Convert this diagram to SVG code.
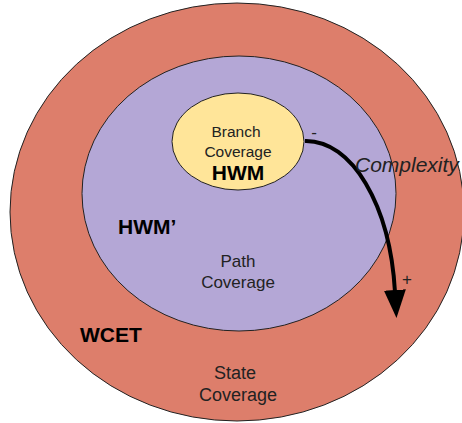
<svg xmlns="http://www.w3.org/2000/svg" width="462" height="423" viewBox="0 0 462 423">
  <defs>
    <marker id="arrowhead" viewBox="0 0 28 22" refX="2" refY="11" markerWidth="28" markerHeight="22" markerUnits="userSpaceOnUse" orient="auto">
      <polygon points="0,0 28,11 0,22" fill="#000"/>
    </marker>
    <style>
      .ring { stroke: #222; stroke-width: 1; }
      .lbl { font-family: "Liberation Sans", Arial, sans-serif; fill: #222; text-anchor: middle; }
      .big { font-family: "Liberation Sans", Arial, sans-serif; font-weight: bold; fill: #000; font-size: 21px; }
    </style>
  </defs>
  <rect width="462" height="423" fill="#fff"/>

  <!-- outer ring: state coverage / WCET -->
  <g id="state-coverage">
    <ellipse class="ring" cx="237" cy="212" rx="227" ry="209" fill="#dd7e6b"/>
    <text class="big" x="80" y="342">WCET</text>
    <text class="lbl" x="235" y="379" font-size="18">State</text>
    <text class="lbl" x="238" y="401" font-size="18">Coverage</text>
  </g>

  <!-- middle ring: path coverage / HWM' -->
  <g id="path-coverage">
    <ellipse class="ring" cx="239" cy="193.5" rx="157" ry="137.5" fill="#b4a7d6"/>
    <text class="big" x="118" y="234">HWM’</text>
    <text class="lbl" x="238" y="267" font-size="17">Path</text>
    <text class="lbl" x="238" y="288" font-size="17">Coverage</text>
  </g>

  <!-- inner ring: branch coverage / HWM -->
  <g id="branch-coverage">
    <ellipse class="ring" cx="238" cy="141.5" rx="66" ry="48.5" fill="#ffe599"/>
    <text class="lbl" x="236" y="137" font-size="15.5">Branch</text>
    <text class="lbl" x="238" y="157" font-size="15.5">Coverage</text>
    <text class="big" x="238" y="180" text-anchor="middle">HWM</text>
  </g>

  <!-- complexity axis -->
  <g id="connectors">
    <path d="M305,141 C352,140 390,205 395,292" fill="none" stroke="#000" stroke-width="4" marker-end="url(#arrowhead)"/>
  </g>
  <g id="complexity-labels">
    <text class="lbl" x="314" y="138" font-size="17">-</text>
    <text class="lbl" x="407" y="285" font-size="17">+</text>
    <text x="355" y="172" font-family="Liberation Sans, Arial, sans-serif" font-style="italic" font-size="21" fill="#222">Complexity</text>
  </g>
</svg>
